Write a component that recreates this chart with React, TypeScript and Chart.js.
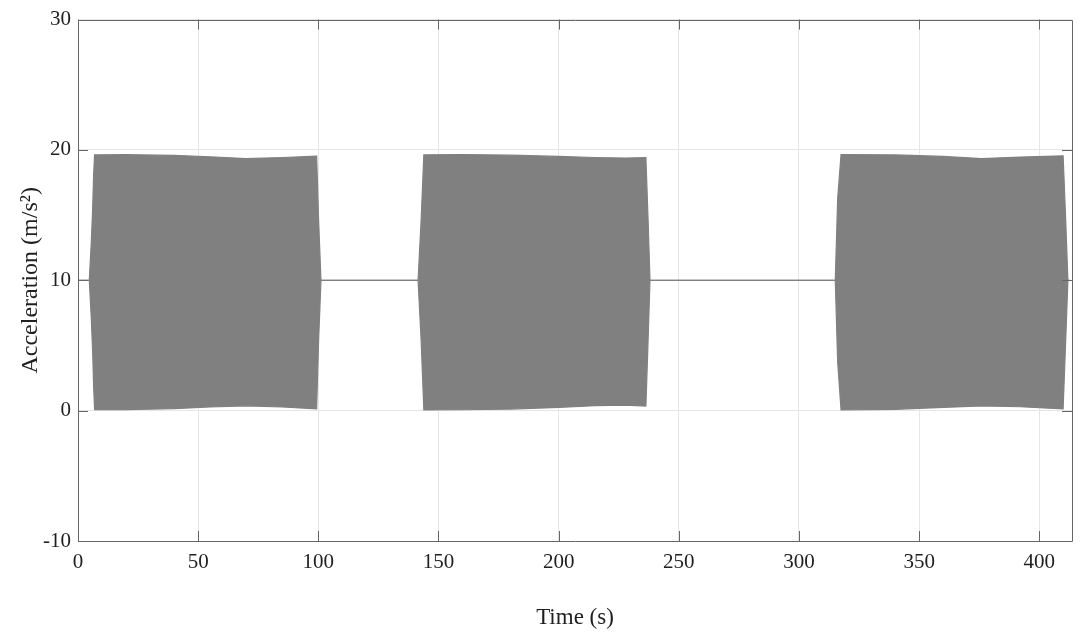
import React, { useEffect, useRef } from "react";
import { Chart, registerables } from "chart.js";

Chart.register(...registerables);

// Envelope of the acceleration signal (time in s, envelope values in m/s^2)
const times = [
  0, 4.7, 5.55, 6.1, 6.5, 6.9, 20, 40, 55, 70, 85, 99.3, 100.1, 101.1,
  141.5, 142.8, 143.9, 160, 180, 200, 215, 228, 236.3, 237.2, 238.0,
  315.1, 316.1, 317.5, 340, 360, 376, 392, 409.9, 410.9, 411.9, 412.6,
];
const upperEnvelope = [
  10, 10, 13, 15.5, 18.1, 19.62, 19.64, 19.58, 19.48, 19.34, 19.42, 19.52, 14.7, 10,
  10, 14.7, 19.62, 19.65, 19.6, 19.5, 19.42, 19.38, 19.42, 14.7, 10,
  10, 16.3, 19.64, 19.62, 19.5, 19.34, 19.45, 19.55, 15, 10, 10,
];
const lowerEnvelope = [
  10, 10, 7, 4.5, 1.9, 0.08, 0.08, 0.15, 0.28, 0.37, 0.28, 0.13, 5.3, 10,
  10, 5.3, 0.05, 0.07, 0.12, 0.25, 0.38, 0.42, 0.35, 5.3, 10,
  10, 3.7, 0.05, 0.1, 0.25, 0.36, 0.3, 0.13, 5, 10, 10,
];

const xTicks = [0, 50, 100, 150, 200, 250, 300, 350, 400];
const yTicks = [-10, 0, 10, 20, 30];
const xLabel = "Time (s)";
const yLabel = "Acceleration (m/s²)";

const FONT = "'Liberation Serif', 'Times New Roman', serif";

const framePlugin = {
  id: "matlabFrame",
  afterDatasetsDraw(chart: any) {
    const { ctx, chartArea } = chart;
    const { left, right, top, bottom } = chartArea;
    const xs = chart.scales.x;
    const ys = chart.scales.y;
    const tl = 10;
    ctx.save();
    ctx.strokeStyle = "#666666";
    ctx.lineWidth = 1;
    ctx.beginPath();
    ctx.rect(Math.round(left) + 0.5, Math.round(top) + 0.5, Math.round(right - left), Math.round(bottom - top));
    ctx.stroke();
    ctx.beginPath();
    xs.ticks.forEach((t: any) => {
      const px = Math.round(xs.getPixelForValue(t.value)) + 0.5;
      ctx.moveTo(px, bottom);
      ctx.lineTo(px, bottom - tl);
      ctx.moveTo(px, top);
      ctx.lineTo(px, top + tl);
    });
    ys.ticks.forEach((t: any) => {
      const py = Math.round(ys.getPixelForValue(t.value)) + 0.5;
      ctx.moveTo(left, py);
      ctx.lineTo(left + tl, py);
      ctx.moveTo(right, py);
      ctx.lineTo(right - tl, py);
    });
    ctx.stroke();
    ctx.restore();
  },
};

export default function App() {
  const canvasRef = useRef<HTMLCanvasElement | null>(null);

  useEffect(() => {
    const canvas = canvasRef.current;
    if (!canvas) return;
    const upperData = times.map((t, i) => ({ x: t, y: upperEnvelope[i] }));
    const lowerData = times.map((t, i) => ({ x: t, y: lowerEnvelope[i] }));

    const chart = new Chart(canvas, {
      type: "line",
      data: {
        datasets: [
          {
            label: "upper",
            data: upperData,
            borderColor: "#808080",
            backgroundColor: "#808080",
            borderWidth: 1.2,
            pointRadius: 0,
            tension: 0,
            fill: "+1",
          },
          {
            label: "lower",
            data: lowerData,
            borderColor: "#808080",
            backgroundColor: "#808080",
            borderWidth: 1.2,
            pointRadius: 0,
            tension: 0,
            fill: false,
          },
        ],
      },
      options: {
        animation: false,
        responsive: false,
        devicePixelRatio: 1,
        layout: { padding: { top: 17, right: 8, left: 0, bottom: 0 } },
        plugins: {
          legend: { display: false },
          tooltip: { enabled: false },
        },
        scales: {
          x: {
            type: "linear",
            min: 0,
            max: 413.6,
            afterFit: (s: any) => {
              s.height = 98;
            },
            afterBuildTicks: (s: any) => {
              s.ticks = xTicks.map((v) => ({ value: v }));
            },
            ticks: {
              padding: 9,
              color: "#1f1f1f",
              font: { family: FONT, size: 21 },
              maxRotation: 0,
            },
            grid: {
              color: "#e6e6e6",
              drawTicks: false,
            },
            border: { display: false },
            title: {
              display: true,
              text: xLabel,
              color: "#1f1f1f",
              font: { family: FONT, size: 23 },
              padding: { top: 0, bottom: 7 },
            },
          },
          y: {
            type: "linear",
            min: -10,
            max: 30,
            afterFit: (s: any) => {
              s.width = 78;
            },
            afterBuildTicks: (s: any) => {
              s.ticks = yTicks.map((v) => ({ value: v }));
            },
            ticks: {
              padding: 7,
              color: "#1f1f1f",
              font: { family: FONT, size: 21 },
            },
            grid: {
              color: "#e6e6e6",
              drawTicks: false,
            },
            border: { display: false },
            title: {
              display: true,
              text: yLabel,
              color: "#1f1f1f",
              font: { family: FONT, size: 24 },
              padding: { top: 16, bottom: 0 },
            },
          },
        },
      },
      plugins: [framePlugin],
    });

    return () => {
      chart.destroy();
    };
  }, []);

  return (
    <div
      style={{
        position: "fixed",
        left: 0,
        top: 0,
        width: 1080,
        height: 639,
        background: "#ffffff",
      }}
    >
      <canvas ref={canvasRef} width={1080} height={639} />
    </div>
  );
}
